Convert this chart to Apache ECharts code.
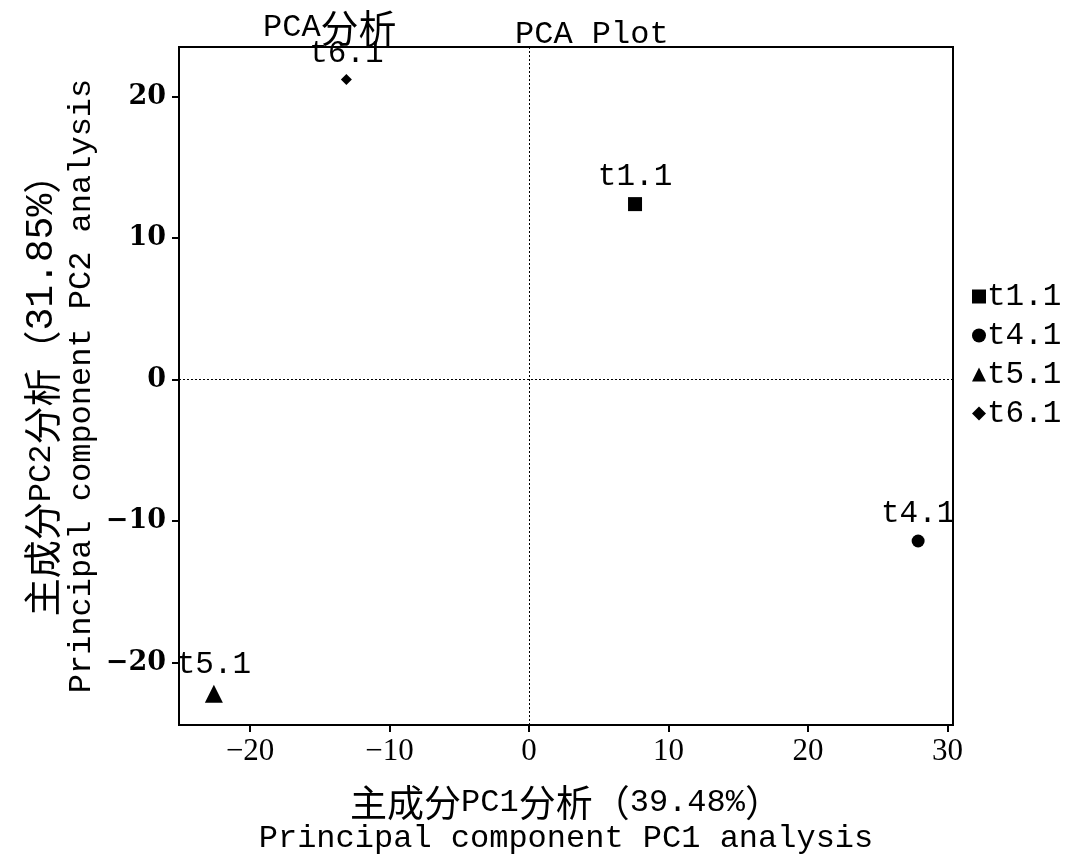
<!DOCTYPE html>
<html><head><meta charset="utf-8">
<script src="https://cdn.jsdelivr.net/npm/echarts@6/dist/echarts.min.js"></script>
<style>html,body{margin:0;padding:0;background:#fff}#c{width:1069px;height:859px}</style>
</head><body><div id="c"></div>
<script>
const names = ['t1.1','t4.1','t5.1','t6.1'];
const pc1 = [7.6, 27.9, -22.6, -13.1];
const pc2 = [12.4, -11.4, -22.2, 21.2];
const symbols = ['rect','circle','triangle','diamond'];
const symbolSizes = [14, 13, 18, 11];
const xTicks = [-20,-10,0,10,20,30];
const yTicks = [-20,-10,0,10,20];
const mono = '"Liberation Mono","Noto Sans CJK SC",monospace';
const cjk = '"Noto Sans CJK SC",sans-serif';
const serif = '"Liberation Serif",serif';
const minusFmt = v => String(v).replace('-', '\u2212');

const series = names.map((n,i)=>({
  name:n, type:'scatter', symbol:symbols[i], symbolSize:symbolSizes[i],
  itemStyle:{color:'#000', opacity:1},
  data:[[pc1[i], pc2[i]]],
  label:{show:true, position:'top', distance:5, formatter:n, color:'#000', opacity:1, fontSize:31, fontFamily:mono},
  markLine: i===0 ? {silent:true, symbol:'none', label:{show:false},
    lineStyle:{color:'#000', type:[2,2], width:1, opacity:1},
    data:[{xAxis:0},{yAxis:0}]} : undefined
}));

const chart = echarts.init(document.getElementById('c'));
chart.setOption({
  backgroundColor:'#fff',
  animation:false,
  title:[
    {text:'{l|PCA}{c|分析}', left:258, top:4, textStyle:{fontWeight:'normal', rich:{
      l:{fontFamily:mono, fontSize:32, fontWeight:'normal', color:'#000'},
      c:{fontFamily:cjk, fontSize:38, fontWeight:'normal', color:'#000'}}}},
    {text:'PCA Plot', left:510, top:14, textStyle:{fontFamily:mono, fontSize:32, fontWeight:'normal', color:'#000'}}
  ],
  grid:{left:179, right:116, top:47, bottom:134, show:true, borderColor:'#000', borderWidth:2, containLabel:false, outerBoundsMode:'none'},
  legend:{
    orient:'vertical', left:967, top:272, itemGap:0, itemWidth:14, itemHeight:14,
    data:names.map((n,i)=>({name:n, icon:symbols[i]})),
    itemStyle:{opacity:1},
    textStyle:{fontFamily:mono, fontSize:31, color:'#000', lineHeight:39, padding:[0,0,0,-4]}
  },
  xAxis:{
    type:'value', min:-25.1, max:30.4, interval:10,
    axisLine:{show:true, onZero:false, lineStyle:{color:'#000', width:2}},
    axisTick:{show:true, length:7, lineStyle:{color:'#000', width:2}, customValues:xTicks},
    axisLabel:{color:'#000', fontFamily:serif, fontSize:31, margin:11, customValues:xTicks, formatter:minusFmt},
    splitLine:{show:false},
    name:'{c|主成分}{l|PC1}{c|分析（}{l|39.48%}{c|）}\n{l|Principal component PC1 analysis}',
    nameLocation:'middle', nameGap:60,
    nameTextStyle:{lineHeight:36, rich:{
      l:{fontFamily:mono, fontSize:32, color:'#000', lineHeight:36},
      c:{fontFamily:cjk, fontSize:37, color:'#000', lineHeight:36}}}
  },
  yAxis:{
    type:'value', min:-24.4, max:23.5, interval:10,
    axisLine:{show:true, onZero:false, lineStyle:{color:'#000', width:2}},
    axisTick:{show:true, length:7, lineStyle:{color:'#000', width:2}, customValues:yTicks},
    axisLabel:{color:'#000', fontFamily:'"DejaVu Serif",serif', fontSize:27, fontWeight:'bold', margin:13, customValues:yTicks, formatter:minusFmt},
    splitLine:{show:false},
    name:'{c|主成分}{l|PC2}{c|分析（}{d|31.85%}{c|）}\n{l|Principal component PC2 analysis}',
    nameLocation:'middle', nameGap:77, nameRotate:90, nameMoveOverlap:false,
    nameTextStyle:{lineHeight:40, rich:{
      l:{fontFamily:mono, fontSize:32, color:'#000', lineHeight:40},
      d:{fontFamily:mono, fontSize:38, color:'#000', lineHeight:40},
      c:{fontFamily:cjk, fontSize:38, color:'#000', lineHeight:40}}}
  },
  series:series
});
</script></body></html>
